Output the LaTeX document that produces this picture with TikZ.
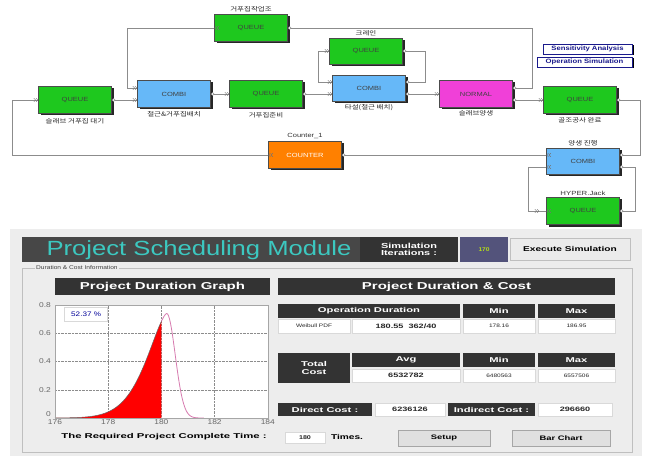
\documentclass[tikz,border=0pt]{standalone}
\usepackage{fontspec}
\setmainfont{Liberation Sans}
\newfontfamily\krfont{Noto Sans CJK KR}
\usetikzlibrary{calc,shadows}
\definecolor{qgreen}{HTML}{1EC81E}
\definecolor{cblue}{HTML}{66B8F8}
\definecolor{nmag}{HTML}{F040D8}
\definecolor{corange}{HTML}{FF8000}
\definecolor{wirec}{HTML}{8C8C8C}
\definecolor{panelc}{HTML}{EDEDED}
\definecolor{darkhdr}{HTML}{333333}
\definecolor{titlec}{HTML}{3CC8C0}
\definecolor{btnblue}{HTML}{1A1A8C}
\newcommand\sxw[2]{\scalebox{#1}[1]{#2}}
\newcommand\kr[1]{\scalebox{1.25}[1]{#1}}
\newcommand\cellbox[7]{\node[#1, minimum width={(#4)-(#2)}, minimum height={(#5)-(#3)}] (#7) at ({((#2)+(#4))/2},{((#3)+(#5))/2}) {#6};}
\begin{document}
\begin{tikzpicture}[x=1pt,y=-1pt,
  blk/.style={draw=black!70, line width=0.4pt, minimum width=73pt, minimum height=27pt, inner sep=0pt,
    font=\fontsize{6}{7}\selectfont, text=black!75,
    drop shadow={shadow xshift=2pt, shadow yshift=-2pt, opacity=1, fill=black!85}},
  que/.style={blk, fill=qgreen},
  cmb/.style={blk, fill=cblue},
  lbl/.style={font=\krfont\fontsize{6}{7}\selectfont, text=black!85, inner sep=0pt},
  elbl/.style={font=\fontsize{6}{7}\selectfont, text=black!80, inner sep=0pt},
  wire/.style={draw=wirec, line width=0.7pt},
  pin/.pic={\draw[black!55,line width=0.4pt] (-4.5,-1.8)--(-2.7,0)--(-4.5,1.8) (-2.2,-1.8)--(-0.4,0)--(-2.2,1.8);},
  pout/.pic={\draw[black!55,line width=0.4pt,fill=white] (2,0) circle (1.5);},
  sbtn/.style={draw=btnblue, fill=white, line width=0.6pt, inner sep=0pt, text=btnblue,
    font=\bfseries\fontsize{6.3}{7}\selectfont,
    drop shadow={shadow xshift=1.5pt, shadow yshift=-1.5pt, opacity=1, fill=black}},
  dk/.style={fill=darkhdr, text=white, inner sep=0pt, font=\bfseries\fontsize{7}{7.5}\selectfont, align=center},
  wc/.style={fill=white, draw=black!15, text=black!85, inner sep=0pt, font=\fontsize{5}{6}\selectfont},
  wcb/.style={wc, font=\bfseries\fontsize{6.3}{7}\selectfont},
  btn/.style={fill=black!12, draw=black!35, inner sep=0pt, font=\bfseries\fontsize{6.5}{7}\selectfont},
  axl/.style={font=\fontsize{7}{8}\selectfont, text=black!60, inner sep=0pt}
]
\useasboundingbox (0,0) rectangle (645,457);
\fill[white] (0,0) rectangle (645,457);

% ---------- upper model ----------
\node[que] (q1) at (251,28) {\sxw{1.25}{QUEUE}};
\node[lbl] (q1l) at (251,9) {\kr{거푸집작업조}};
\node[que] (q0) at (75,100) {\sxw{1.25}{QUEUE}};
\node[lbl] (q0l) at (75,121) {\kr{슬래브 거푸집 대기}};
\node[cmb] (c1) at (174,94) {\sxw{1.25}{COMBI}};
\node[lbl] (c1l) at (174,114) {\kr{철근\&거푸집배치}};
\node[que] (q2) at (266,94) {\sxw{1.25}{QUEUE}};
\node[lbl] (q2l) at (266,115) {\kr{거푸집준비}};
\node[que, minimum height=26pt] (q3) at (366,51) {\sxw{1.25}{QUEUE}};
\node[lbl] (q3l) at (366,33) {\kr{크레인}};
\node[cmb, minimum height=26pt] (c2) at (369,88) {\sxw{1.25}{COMBI}};
\node[lbl] (c2l) at (369,108) {\kr{타설(철근 배치)}};
\node[blk, fill=nmag] (n1) at (476,94) {\sxw{1.25}{NORMAL}};
\node[lbl] (n1l) at (476,113) {\kr{슬래브양생}};
\node[que] (q4) at (580,100) {\sxw{1.25}{QUEUE}};
\node[lbl] (q4l) at (580,120) {\kr{골조공사 완료}};
\node[blk, fill=corange, text=white] (ct) at (305,155) {\sxw{1.25}{COUNTER}};
\node[elbl] (ctl) at (305,136) {\sxw{1.25}{Counter\_1}};
\node[cmb, minimum height=26pt] (c3) at (583,161) {\sxw{1.25}{COMBI}};
\node[lbl] (c3l) at (583,143) {\kr{양생 진행}};
\node[que] (q5) at (583,211) {\sxw{1.25}{QUEUE}};
\node[elbl] (q5l) at (583,193) {\sxw{1.3}{HYPER.Jack}};

\node[sbtn, minimum width=89pt, minimum height=10pt] (sa) at (587.5,49) {\sxw{1.22}{Sensitivity Analysis}};
\node[sbtn, minimum width=95pt, minimum height=10pt] (os) at (584.5,62) {\sxw{1.22}{Operation Simulation}};

% port coordinates
\coordinate (c1a) at ($(c1.west)+(0,-6)$);
\coordinate (c1b) at ($(c1.west)+(0,6)$);
\coordinate (c2a) at ($(c2.west)+(0,-6)$);
\coordinate (c2b) at ($(c2.west)+(0,6)$);
\coordinate (c2c) at ($(c2.east)+(0,-6)$);
\coordinate (c2d) at ($(c2.east)+(0,6)$);
\coordinate (n1a) at ($(n1.east)+(0,-6)$);
\coordinate (n1b) at ($(n1.east)+(0,6)$);
\coordinate (c3a) at ($(c3.east)+(0,-6)$);
\coordinate (c3b) at ($(c3.east)+(0,6)$);
\coordinate (c3c) at ($(c3.west)+(0,-6)$);
\coordinate (c3d) at ($(c3.west)+(0,6)$);

% wires
\draw[wire] (n1a) -| (532,28) -- (q1.east);
\draw[wire] (q1.west) -| (127,88) -- (c1a);
\draw[wire] (q0.east) -- (c1b);
\draw[wire] (c1.east) -- (q2.west);
\draw[wire] (q2.east) -- (c2b);
\draw[wire] (q3.west) -| (318,82) -- (c2a);
\draw[wire] (q3.east) -| (425,82) -- (c2c);
\draw[wire] (c2d) -- (n1.west);
\draw[wire] (n1b) -- (q4.west);
\draw[wire] (q4.east) -| (640,155) -- (c3a);
\draw[wire] (c3b) -| (635,211) -- (q5.east);
\draw[wire] (q5.west) -| (528,167) -- (c3d);
\draw[wire] (c3c) -- (ct.east);
\draw[wire] (ct.west) -| (12,100) -- (q0.west);

% port marks
\foreach \p in {c1a,c1b,q2.west,c2a,c2b,q3.west,n1.west,q4.west,q0.west}
  \pic at (\p) {pin};
\foreach \p in {q1.west,ct.west,c3c,c3d,q5.west}
  \pic[rotate=180] at (\p) {pin};
\pic at ($(q5.west)+(-7,0)$) {pin};
\foreach \p in {q0.east,c1.east,q2.east,c2c,c2d,n1a,n1b,q4.east,c3a,c3b,q5.east,q1.east,q3.east}
  \pic at (\p) {pout};
\pic at ($(ct.east)+(0,0)$) {pout};

% ---------- lower panel ----------
\fill[panelc] (10,229) rectangle (642,456);
\draw[black!25, line width=0.4pt] (22,268) rectangle (632,452);
\node[fill=panelc, inner xsep=1pt, inner ysep=0pt, anchor=west, font=\fontsize{5.5}{6}\selectfont, text=black!75] (grp) at (35,268) {\sxw{1.2}{Duration \& Cost Information}};

\cellbox{fill=darkhdr!90, inner sep=0pt}{22}{237}{360}{262}{}{tb}
\node[text=titlec, inner sep=0pt, font=\fontsize{20.5}{22}\selectfont] (tt) at (199,250) {\sxw{1.25}{Project Scheduling Module}};
\cellbox{dk, font=\bfseries\fontsize{7.3}{7.8}\selectfont}{360}{237}{458}{262}{\sxw{1.5}{Simulation}\\[-0.5pt]\sxw{1.5}{Iterations :}}{si}
\cellbox{fill=black!55!blue!35!gray, inner sep=0pt, text=yellow!70!green, font=\bfseries\fontsize{5.5}{6}\selectfont}{460}{237}{508}{262}{\sxw{1.2}{170}}{it}
\cellbox{btn, draw=black!25, fill=black!8, font=\bfseries\fontsize{7}{8}\selectfont}{510}{238}{630}{260}{\sxw{1.45}{Execute Simulation}}{ex}

\cellbox{dk, font=\bfseries\fontsize{10}{11}\selectfont}{55}{278}{270}{295}{\sxw{1.5}{Project Duration Graph}}{gh}
\cellbox{dk, font=\bfseries\fontsize{10}{11}\selectfont}{278}{278}{615}{295}{\sxw{1.5}{Project Duration \& Cost}}{th}

\cellbox{dk}{278}{304}{460}{318}{\sxw{1.6}{Operation Duration}}{od}
\cellbox{dk}{463}{304}{535}{318}{\sxw{1.6}{Min}}{m1}
\cellbox{dk}{538}{304}{615}{318}{\sxw{1.6}{Max}}{x1}
\cellbox{wc}{278}{319}{350}{333}{\sxw{1.3}{Weibull PDF}}{wp}
\cellbox{wcb}{352}{319}{460}{333}{\sxw{1.45}{180.55\ \ 362/40}}{wv}
\cellbox{wc}{463}{319}{535}{333}{\sxw{1.3}{178.16}}{wmin}
\cellbox{wc}{538}{319}{615}{333}{\sxw{1.3}{186.95}}{wmax}

\cellbox{dk}{278}{353}{350}{383}{\sxw{1.6}{Total}\\[1pt]\sxw{1.6}{Cost}}{tc}
\cellbox{dk}{352}{353}{460}{367}{\sxw{1.6}{Avg}}{av}
\cellbox{dk}{463}{353}{535}{367}{\sxw{1.6}{Min}}{m2}
\cellbox{dk}{538}{353}{615}{367}{\sxw{1.6}{Max}}{x2}
\cellbox{wcb}{352}{369}{460}{382}{\sxw{1.45}{6532782}}{avv}
\cellbox{wc}{463}{369}{535}{382}{\sxw{1.3}{6480563}}{m2v}
\cellbox{wc}{538}{369}{615}{382}{\sxw{1.3}{6557506}}{x2v}

\cellbox{dk}{278}{403}{372}{416}{\sxw{1.6}{Direct Cost :}}{dc}
\cellbox{wcb}{375}{403}{445}{416}{\sxw{1.45}{6236126}}{dcv}
\cellbox{dk}{448}{403}{535}{416}{\sxw{1.6}{Indirect Cost :}}{ic}
\cellbox{wcb}{538}{403}{612}{416}{\sxw{1.45}{296660}}{icv}

\node[inner sep=0pt, font=\bfseries\fontsize{7}{8}\selectfont] (rq) at (164,437) {\sxw{1.62}{The Required Project Complete Time :}};
\cellbox{wcb, font=\bfseries\fontsize{5.5}{6}\selectfont}{285}{432}{325}{443}{\sxw{1.3}{180}}{rt}
\node[inner sep=0pt, font=\bfseries\fontsize{7}{8}\selectfont] (tm) at (347,437) {\sxw{1.45}{Times.}};
\cellbox{btn}{398}{430}{490}{446}{\sxw{1.45}{Setup}}{su}
\cellbox{btn}{512}{430}{610}{446}{\sxw{1.45}{Bar Chart}}{bc}

% plot
\begin{scope}[xshift=55pt, yshift=-418pt, x=26.6pt, y=141.25pt]
  \fill[white] (0,0) rectangle (8,0.8);
  \foreach \g in {2,4,6} \draw[black!45, densely dotted, line width=0.4pt] (\g,0) -- (\g,0.8);
  \foreach \g in {0.2,0.4,0.6} \draw[black!45, densely dotted, line width=0.4pt] (0,\g) -- (8,\g);
  \fill[red] (0,0) -- plot[domain=0:4, samples=80, smooth] (\x, {0.74*exp(-((4.2-\x)/1.1)^1.5)}) -- (4,0) -- cycle;
  \draw[black!60, line width=0.5pt] plot[domain=0:4, samples=60, smooth] (\x, {0.74*exp(-((4.2-\x)/1.1)^1.5)});
  \draw[magenta!50!violet!60, line width=0.8pt] plot[domain=4:4.2, samples=10, smooth] (\x, {0.74*exp(-((4.2-\x)/1.1)^1.5)})
     -- plot[domain=4.2:5.6, samples=40, smooth] (\x, {0.74*exp(-((\x-4.2)/0.45)^2)});
  \draw[black!35, line width=0.4pt] (0,0) rectangle (8,0.8);
  \node[fill=white, draw=black!15, inner sep=0pt, minimum width=43pt, minimum height=14pt, text=blue!60!black, font=\fontsize{6.5}{7}\selectfont] (pct) at (1.17,0.735) {\sxw{1.25}{52.37 \%}};
  \foreach \t/\l in {0/176,2/178,4/180,6/182,8/184}
    \node[axl, below] (xl\t) at (\t,-0.01) {\sxw{1.2}{\l}};
  \foreach \v/\l in {0.8/0.8,0.6/0.6,0.4/0.4,0.2/0.2}
    \node[axl, left] (yl\l) at (-0.15,\v) {\sxw{1.2}{\l}};
  \node[axl, left] (yl0) at (-0.15,0.03) {\sxw{1.2}{0}};
\end{scope}
\end{tikzpicture}
\end{document}
